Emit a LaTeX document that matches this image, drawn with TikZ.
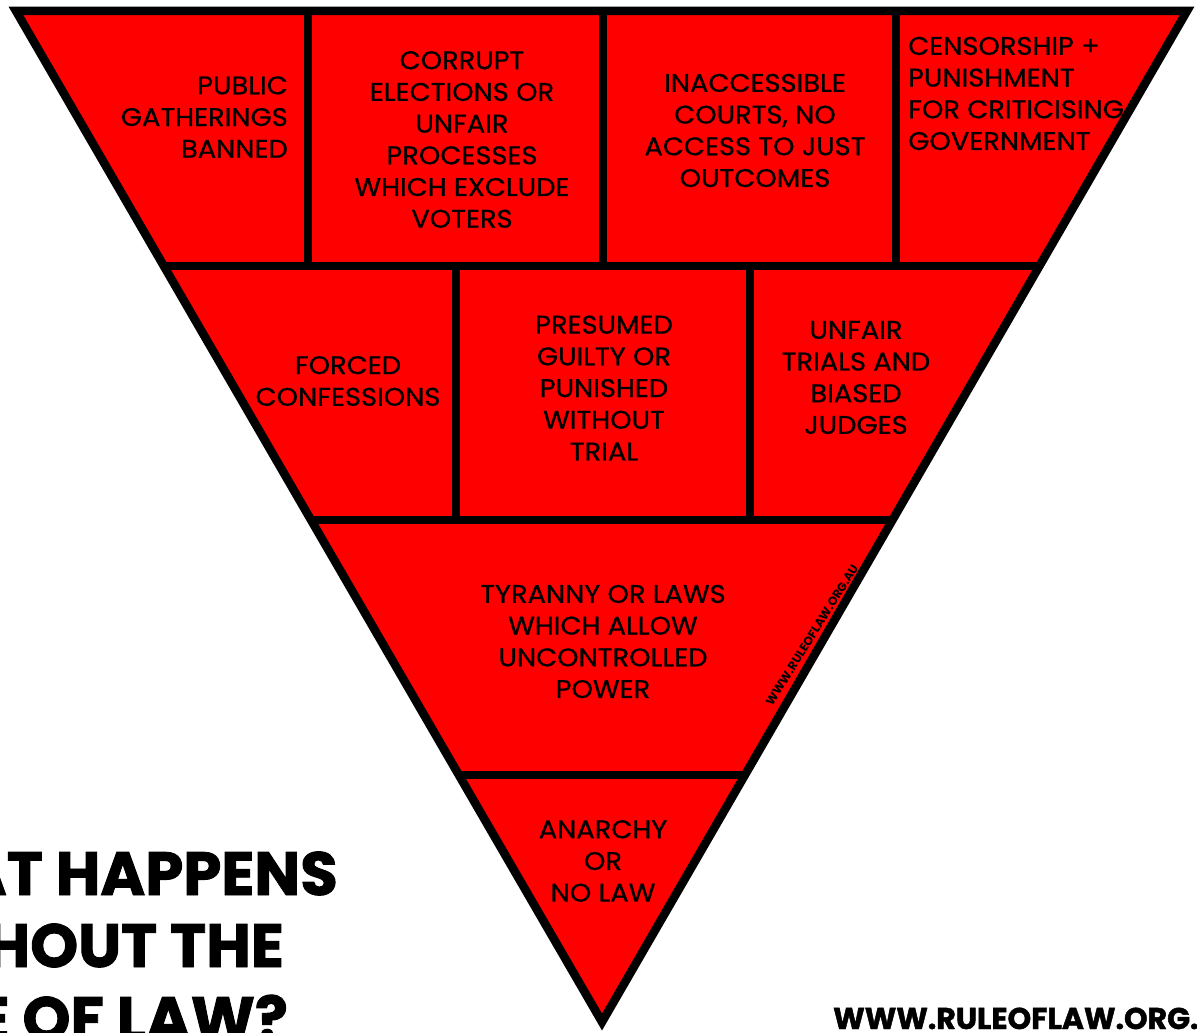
\documentclass[tikz,border=0pt]{standalone}
\usepackage{fontspec}
\setmainfont{Poppins}
\newfontfamily\lblfont{Poppins}[FakeBold=0.8,FakeStretch=1.07]
\newfontfamily\heavyfont{Poppins}[UprightFont=* Bold,FakeBold=1.5]
\begin{document}
\begin{tikzpicture}[x=1pt,y=-1pt,
  rule/.style={line width=8.5pt,draw=black},
  lbl/.style={inner sep=0pt,text=black,font=\lblfont\fontsize{25.5}{31.7}\selectfont},
  title/.style={inner sep=0pt,anchor=base east,font=\heavyfont\fontsize{61}{72}\selectfont},
  wmark/.style={inner sep=0pt,font=\fontsize{12}{12}\selectfont\bfseries}
]
\useasboundingbox (0,0) rectangle (1197,1033);
\begin{scope}
\clip (0,0) rectangle (1197,1033);
% triangle fill
\coordinate (tl) at (16,11);
\coordinate (tr) at (1187,11);
\coordinate (ap) at (602,1022);
\fill[red] (tl) -- (tr) -- (ap) -- cycle;
\begin{scope}
\clip (tl) -- (tr) -- (ap) -- cycle;
% horizontal dividers
\draw[rule] (0,266) -- (1197,266);
\draw[rule] (0,520) -- (1197,520);
\draw[rule] (0,775) -- (1197,775);
% vertical dividers row 1
\draw[rule] (308,11) -- (308,266);
\draw[rule] (603,11) -- (603,266);
\draw[rule] (896,11) -- (896,266);
% vertical dividers row 2
\draw[rule] (456,266) -- (456,520);
\draw[rule] (750,266) -- (750,520);
\end{scope}
\draw[rule,line join=miter] (tl) -- (tr) -- (ap) -- cycle;

% labels
\node[lbl,align=right,anchor=east] (pub) at (288,117) {PUBLIC\\GATHERINGS\\BANNED};
\node[lbl,align=center] (cor) at (462,139.5) {CORRUPT\\ELECTIONS OR\\UNFAIR\\PROCESSES\\WHICH EXCLUDE\\VOTERS};
\node[lbl,align=center] (ina) at (755,130.5) {INACCESSIBLE\\COURTS, NO\\ACCESS TO JUST\\OUTCOMES};
\node[lbl,align=left,anchor=west] (cen) at (908,93.5) {CENSORSHIP +\\PUNISHMENT\\FOR CRITICISING\\GOVERNMENT};
\node[lbl,align=center] (for) at (348,381) {FORCED\\CONFESSIONS};
\node[lbl,align=center] (pre) at (604,388) {PRESUMED\\GUILTY OR\\PUNISHED\\WITHOUT\\TRIAL};
\node[lbl,align=center] (unf) at (856,377.5) {UNFAIR\\TRIALS AND\\BIASED\\JUDGES};
\node[lbl,align=center] (tyr) at (603,641.5) {TYRANNY OR LAWS\\WHICH ALLOW\\UNCONTROLLED\\POWER};
\node[lbl,align=center] (ana) at (603,861) {ANARCHY\\OR\\NO LAW};
\node[wmark,rotate=58] (wm) at (812,635) {WWW.RULEOFLAW.ORG.AU};

% title (cut off at the left edge)
\node[title] (t1) at (338,895) {WHAT HAPPENS};
\node[title] (t2) at (284,967) {WITHOUT THE};
\node[title] (t3) at (288,1040) {RULE OF LAW?};
% url (cut off at the right edge)
\node[inner sep=0pt,anchor=base west,font=\heavyfont\fontsize{30}{30}\selectfont] (url) at (833,1029) {WWW.RULEOFLAW.ORG.AU};
\end{scope}
\end{tikzpicture}
\end{document}
